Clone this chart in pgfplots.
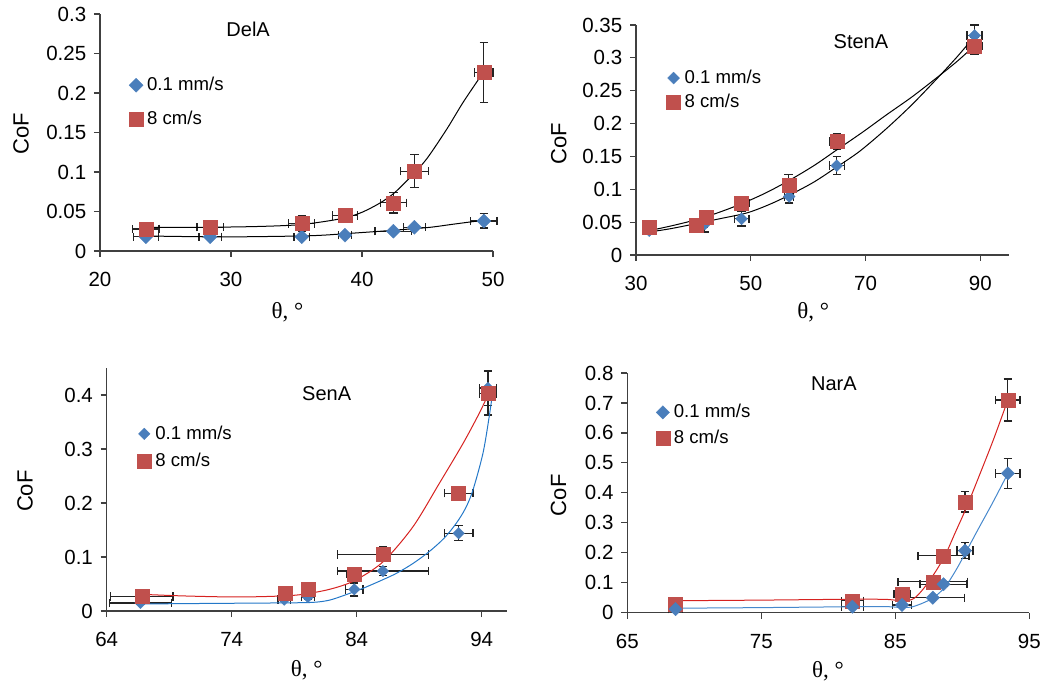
\documentclass[border=0pt]{standalone}
\usepackage{pgfplots}
\usepackage{pgfplotstable}
\pgfplotsset{compat=1.18}
\usepackage{fontspec}
\setmainfont{Liberation Sans}
\newfontfamily\serifth{Liberation Serif}
\definecolor{mblue}{RGB}{74,126,187}
\definecolor{mred}{RGB}{192,80,77}
\definecolor{lred}{RGB}{214,34,32}
\definecolor{lblue}{RGB}{36,120,200}
\definecolor{lblueb}{RGB}{70,136,204}
\definecolor{axgray}{RGB}{64,64,64}
\definecolor{ebgray}{RGB}{35,35,35}

\pgfdeclareplotmark{mydiamond}{%
  \pgfpathmoveto{\pgfqpoint{0pt}{\pgfplotmarksize}}%
  \pgfpathlineto{\pgfqpoint{\pgfplotmarksize}{0pt}}%
  \pgfpathlineto{\pgfqpoint{0pt}{-\pgfplotmarksize}}%
  \pgfpathlineto{\pgfqpoint{-\pgfplotmarksize}{0pt}}%
  \pgfpathclose\pgfusepathqfillstroke}

% ---------- data: x, y, x error, y error ----------
\pgfplotstableread{
x y ex ey
23.5 0.018 0.95 0.002
28.4 0.018 0.85 0.002
35.4 0.018 0.6 0.003
38.7 0.020 0.5 0.002
42.4 0.025 1.4 0.002
44.0 0.030 0.85 0.002
49.3 0.038 1.0 0.009
}\delAblue
\pgfplotstableread{
x y ex ey
23.5 0.028 1.0 0.004
28.4 0.030 1.0 0.004
35.4 0.035 1.0 0.010
38.7 0.045 0.95 0.009
42.4 0.061 1.0 0.013
44.0 0.101 1.05 0.021
49.3 0.226 0.7 0.038
}\delAred
\pgfplotstableread{
x y ex ey
32.3 0.037 0.5 0.004
42.0 0.047 0.5 0.012
48.4 0.055 1.3 0.011
56.7 0.089 0.8 0.010
65.0 0.136 1.3 0.014
89.0 0.334 1.3 0.016
}\stenAblue
\pgfplotstableread{
x y ex ey
32.3 0.042 1.0 0.005
40.4 0.045 1.0 0.004
42.2 0.057 1.0 0.005
48.4 0.079 1.3 0.010
56.6 0.107 1.0 0.015
65.0 0.173 1.3 0.012
89.0 0.318 1.3 0.013
}\stenAred
\pgfplotstableread{
x y ex ey
66.7 0.015 2.5 0.003
78.2 0.021 0.5 0.003
80.1 0.026 0.5 0.004
83.8 0.040 0.7 0.012
86.1 0.074 3.65 0.008
92.15 0.144 1.15 0.014
94.5 0.413 0.7 0.032
}\senAblue
\pgfplotstableread{
x y ex ey
66.8 0.027 2.5 0.003
78.3 0.033 0.5 0.004
80.1 0.041 0.5 0.004
83.8 0.069 0.6 0.010
86.1 0.105 3.65 0.014
92.15 0.218 1.15 0.005
94.5 0.403 0.7 0.040
}\senAred
\pgfplotstableread{
x y ex ey
68.6 0.012 0.5 0.003
81.8 0.020 0.8 0.004
85.5 0.026 0.7 0.004
87.8 0.050 2.35 0.004
88.6 0.095 1.75 0.008
90.2 0.207 0.6 0.027
93.4 0.465 0.9 0.050
}\narAblue
\pgfplotstableread{
x y ex ey
68.6 0.028 0.5 0.004
81.8 0.040 0.8 0.005
85.5 0.063 0.6 0.006
87.8 0.103 2.6 0.006
88.6 0.190 1.9 0.010
90.2 0.370 0.5 0.034
93.4 0.710 0.9 0.070
}\narAred

\pgfplotsset{
  panel/.style={
    scale only axis, anchor=south west,
    axis lines*=left,
    axis line style={axgray, line width=1.2pt, -},
    tick align=outside, major tick length=6pt,
    tick style={axgray, line width=1.2pt},
    minor tick num=0, ymin=0,
    tick label style={font=\fontsize{20.5}{24}\selectfont, text=black},
    xticklabel style={yshift=-12pt},
    yticklabel style={xshift=-4.3pt, /pgf/number format/fixed, /pgf/number format/precision=2},
    /pgf/number format/assume math mode=true,
    clip=false,
    title style={font=\fontsize{20}{24}\selectfont, anchor=base, yshift=-6pt},
    xlabel style={font=\serifth\fontsize{23}{27}\selectfont, anchor=base},
    ylabel style={font=\fontsize{22}{26}\selectfont, anchor=center},
    legend style={draw=none, fill=none, anchor=north west, inner sep=0pt, outer sep=0pt,
      font=\fontsize{18.6}{22}\selectfont,
      nodes={inner sep=0pt, text height=13.3pt, text depth=0pt},
      /tikz/every odd column/.append style={column sep=4pt}},
    legend cell align=left,
    legend image code/.code={\draw[only marks,#1] plot coordinates {(0pt,-1.35pt)};},
    xlabel={θ, °}, ylabel={CoF},
  },
  ebars/.style={forget plot, only marks, mark=*, mark size=0.2pt, color=ebgray,
     error bars/x dir=both, error bars/x explicit,
     error bars/y dir=both, error bars/y explicit,
     error bars/error bar style={draw=ebgray, line width=1.25pt},
     error bars/error mark options={rotate=90, draw=ebgray, mark size=4.2pt, line width=1.25pt}},
  bluemk/.style={only marks, mark=mydiamond, mark size=#1, color=mblue, line width=0.3pt},
  bluemk/.default=7pt,
  redmk/.style={only marks, mark=square*, mark size=7pt, color=mred, line width=0.3pt},
  trend/.style={black, line width=1pt, smooth, no markers, forget plot},
}
\newcommand{\ebplot}[1]{\addplot[ebars] table[x=x, y=y, x error=ex, y error=ey] {#1};}

\begin{document}
\begin{tikzpicture}
\useasboundingbox (0pt,0pt) rectangle (1049pt,683pt);

% ---------------- DelA ----------------
\begin{axis}[panel, at={(100pt,432pt)}, width=393pt, height=237pt,
  xmin=20, xmax=50, ymax=0.3, xtick={20,30,40,50},
  ytick={0,0.05,0.1,0.15,0.2,0.25,0.3},
  title={DelA}, title style={at={(axis description cs:0.377,0.907)}},
  xlabel style={at={(axis description cs:0.477,-0.284)}},
  ylabel style={at={(axis description cs:-0.201,0.494)}},
  legend style={at={(axis description cs:0.074,0.733)}, row sep=19pt}]
\ebplot{\delAblue}
\ebplot{\delAred}
\addplot[bluemk] table[x=x, y=y] {\delAblue};
\addlegendentry{0.1 mm/s}
\addplot[redmk] table[x=x, y=y] {\delAred};
\addlegendentry{8 cm/s}
\addplot[trend] coordinates {(23.5,0.019) (28,0.018) (31,0.018) (35.3,0.019) (37,0.020) (38.8,0.022) (41.4,0.025) (43,0.027) (45.2,0.030) (47,0.034) (49.3,0.039)};
\addplot[trend] coordinates {(23.5,0.030) (28,0.030) (32,0.031) (35,0.033) (37,0.037) (38.7,0.042) (40,0.049) (41.4,0.061) (42.5,0.074) (43.9,0.097) (45,0.118) (46.5,0.155) (47.75,0.189) (49.3,0.227)};
\end{axis}

% ---------------- StenA ----------------
\begin{axis}[panel, at={(636pt,428pt)}, width=373pt, height=230pt,
  xmin=30, xmax=95, ymax=0.35, xtick={30,50,70,90},
  ytick={0,0.05,0.1,0.15,0.2,0.25,0.3,0.35},
  title={StenA}, title style={at={(axis description cs:0.603,0.897)}},
  xlabel style={at={(axis description cs:0.475,-0.275)}},
  ylabel style={at={(axis description cs:-0.207,0.484)}},
  legend style={at={(axis description cs:0.082,0.804)}, row sep=10pt}]
\ebplot{\stenAblue}
\ebplot{\stenAred}
\addplot[bluemk=6pt] table[x=x, y=y] {\stenAblue};
\addlegendentry{0.1 mm/s}
\addplot[redmk] table[x=x, y=y] {\stenAred};
\addlegendentry{8 cm/s}
\addplot[trend] coordinates {(32.3,0.035) (36,0.040) (40.6,0.048) (44.5,0.055) (49.3,0.064) (53,0.076) (56.7,0.091) (61,0.111) (65,0.134) (69,0.158) (73.6,0.192) (78,0.228) (82.3,0.267) (86,0.302) (89.2,0.335)};
\addplot[trend] coordinates {(32.3,0.037) (36.5,0.045) (40.6,0.054) (44.5,0.065) (48.4,0.078) (52.5,0.094) (56.6,0.113) (61,0.136) (65,0.160) (69.5,0.187) (73.6,0.213) (78,0.240) (82.3,0.269) (86,0.295) (89.3,0.321)};
\end{axis}

% ---------------- SenA ----------------
\begin{axis}[panel, at={(106.7pt,72pt)}, width=400pt, height=243pt,
  xmin=64, xmax=96, ymax=0.45, xtick={64,74,84,94},
  ytick={0,0.1,0.2,0.3,0.4},
  title={SenA}, title style={at={(axis description cs:0.55,0.865)}},
  xlabel style={at={(axis description cs:0.5,-0.271)}},
  ylabel style={at={(axis description cs:-0.204,0.493)}},
  legend style={at={(axis description cs:0.0765,0.762)}, row sep=14pt}]
\ebplot{\senAblue}
\ebplot{\senAred}
\addplot[bluemk=5.8pt] table[x=x, y=y] {\senAblue};
\addlegendentry{0.1 mm/s}
\addplot[redmk] table[x=x, y=y] {\senAred};
\addlegendentry{8 cm/s}
\addplot[trend, lblue] coordinates {(66.7,0.013) (72,0.014) (78,0.015) (80.5,0.016) (81.8,0.020) (83,0.029) (84.5,0.042) (86,0.057) (87.2,0.070) (88.5,0.088) (89.8,0.110) (91,0.135) (91.95,0.162) (92.7,0.19) (93.3,0.224) (94.1,0.292) (94.6,0.36) (94.9,0.409)};
\addplot[trend, lred] coordinates {(66.7,0.031) (70,0.028) (74,0.026) (77,0.027) (79.4,0.030) (81.8,0.040) (83.8,0.056) (86.1,0.091) (88.5,0.156) (90.6,0.236) (92.5,0.31) (93.8,0.366) (94.5,0.40)};
\end{axis}

% ---------------- NarA ----------------
\begin{axis}[panel, at={(627.3pt,70.3pt)}, width=402pt, height=239.7pt,
  xmin=65, xmax=95, ymax=0.8, xtick={65,75,85,95},
  ytick={0,0.1,0.2,0.3,0.4,0.5,0.6,0.7,0.8},
  title={NarA}, title style={at={(axis description cs:0.514,0.929)}},
  xlabel style={at={(axis description cs:0.499,-0.27)}},
  ylabel style={at={(axis description cs:-0.171,0.49)}},
  legend style={at={(axis description cs:0.071,0.869)}, row sep=11.4pt}]
\ebplot{\narAred}
\ebplot{\narAblue}
\addplot[redmk, forget plot] table[x=x, y=y] {\narAred};
\addplot[bluemk=6.7pt] table[x=x, y=y] {\narAblue};
\addlegendentry{0.1 mm/s}
\addlegendimage{redmk}
\addlegendentry{8 cm/s}
\addplot[trend, lblueb] coordinates {(68.6,0.015) (75,0.017) (82,0.020) (84.5,0.020) (85.5,0.017) (86.3,0.020) (87.2,0.035) (87.9,0.052) (88.7,0.085) (89.5,0.14) (90.3,0.205) (91.2,0.28) (92.3,0.37) (93.4,0.465)};
\addplot[trend, lred] coordinates {(68.6,0.040) (75,0.042) (82,0.045) (84.5,0.044) (85.6,0.038) (86.4,0.048) (87.1,0.08) (87.9,0.13) (88.7,0.19) (89.5,0.27) (90.3,0.35) (91.2,0.45) (92.3,0.575) (93.4,0.71)};
\end{axis}
\end{tikzpicture}
\end{document}
